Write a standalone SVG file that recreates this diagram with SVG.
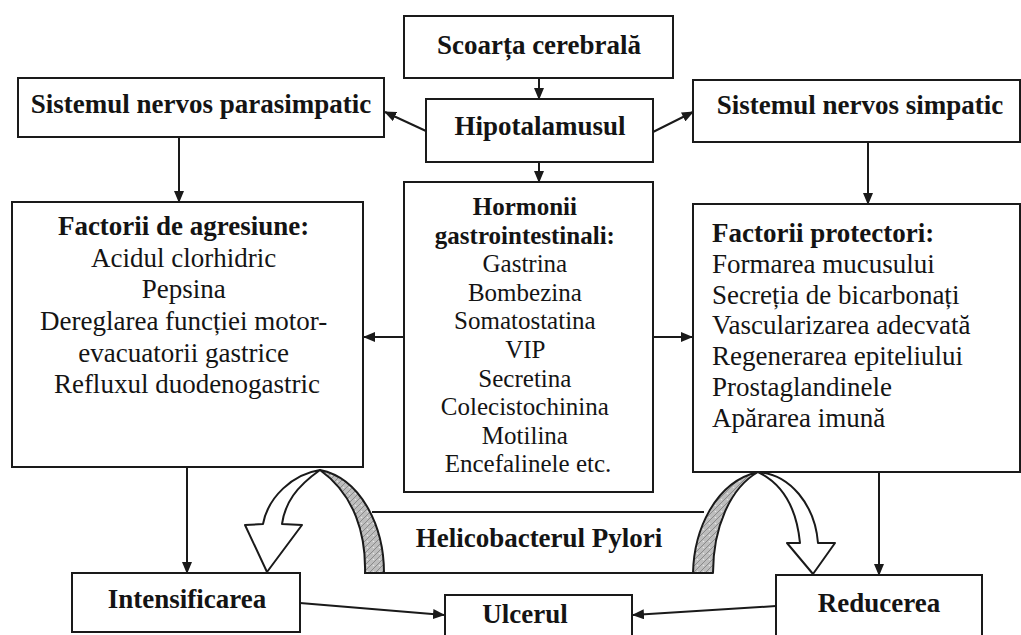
<svg xmlns="http://www.w3.org/2000/svg" width="1021" height="635" viewBox="0 0 1021 635">
  <style>
    .box { fill: #ffffff; stroke: #1a1a1a; stroke-width: 2; }
    .ln { fill: none; stroke: #1a1a1a; stroke-width: 2; }
    .arr { fill: none; stroke: #1a1a1a; stroke-width: 2; marker-end: url(#head); }
    .t { font-family: "Liberation Serif", "Times New Roman", serif; font-size: 27px; fill: #141414; }
    .s { font-size: 25px; }
    .b { font-weight: bold; }
    .c { text-anchor: middle; }
    .ribbon { fill: #ffffff; stroke: #1a1a1a; stroke-width: 2; stroke-linejoin: round; }
    .back { fill: url(#grain); stroke: #1a1a1a; stroke-width: 2; stroke-linejoin: round; }
  </style>
  <defs>
    <marker id="head" viewBox="0 0 12 10" refX="11" refY="5" markerWidth="6" markerHeight="5" orient="auto" markerUnits="strokeWidth">
      <path d="M0,0 L12,5 L0,10 Z" fill="#1a1a1a"/>
    </marker>
    <!-- mottled grey for the back face of the curved ribbons -->
    <pattern id="grain" width="6" height="6" patternUnits="userSpaceOnUse">
      <rect width="6" height="6" fill="#bdbdbd"/>
      <path d="M0,6 L6,0" stroke="#8a8a8a" stroke-width="1"/>
      <circle cx="1.5" cy="1.5" r="0.8" fill="#e6e6e6"/>
    </pattern>
  </defs>

  <rect width="1021" height="635" fill="#ffffff"/>

  <!-- connectors -->
  <g id="connectors">
    <line class="arr" x1="539" y1="78" x2="539" y2="99"/>
    <line class="arr" x1="539" y1="162" x2="539" y2="182"/>
    <line class="arr" x1="426" y1="131" x2="385" y2="112"/>
    <line class="arr" x1="653" y1="132" x2="693" y2="112"/>
    <line class="arr" x1="179" y1="137" x2="179" y2="202"/>
    <line class="arr" x1="868" y1="142" x2="868" y2="204"/>
    <line class="arr" x1="404" y1="337" x2="364" y2="337"/>
    <line class="arr" x1="653" y1="337" x2="692" y2="337"/>
    <line class="arr" x1="187" y1="467" x2="187" y2="573"/>
    <line class="arr" x1="879" y1="472" x2="879" y2="575"/>
    <line class="arr" x1="300" y1="603" x2="444" y2="615"/>
    <line class="arr" x1="776" y1="606" x2="633" y2="615"/>
  </g>

  <g id="scoarta">
    <rect class="box" x="404" y="16" width="269" height="62"/>
    <text class="t b c" x="539" y="54">Scoarța cerebrală</text>
  </g>

  <g id="hipotalamus">
    <rect class="box" x="426" y="99" width="227" height="63"/>
    <text class="t b c" x="540" y="135">Hipotalamusul</text>
  </g>

  <g id="parasimpatic">
    <rect class="box" x="18" y="78" width="366" height="59"/>
    <text class="t b c" x="201" y="113">Sistemul nervos parasimpatic</text>
  </g>

  <g id="simpatic">
    <rect class="box" x="693" y="80" width="327" height="62"/>
    <text class="t b c" x="860" y="114">Sistemul nervos simpatic</text>
  </g>

  <g id="agresiune">
    <rect class="box" x="12" y="202" width="351" height="265"/>
    <text class="t c" x="187">
      <tspan class="b" x="187" y="235">Factorii de agresiune:</tspan>
      <tspan x="187" y="267">Acidul clorhidric</tspan>
      <tspan x="187" y="298">Pepsina</tspan>
      <tspan x="187" y="330">Dereglarea funcției motor-</tspan>
      <tspan x="187" y="362">evacuatorii gastrice</tspan>
      <tspan x="187" y="393">Refluxul duodenogastric</tspan>
    </text>
  </g>

  <g id="hormonii">
    <rect class="box" x="404" y="182" width="249" height="310"/>
    <text class="t s c" x="528">
      <tspan class="b" x="528" y="215">Hormonii</tspan>
      <tspan class="b" x="528" y="244">gastrointestinali:</tspan>
      <tspan x="528" y="272">Gastrina</tspan>
      <tspan x="528" y="301">Bombezina</tspan>
      <tspan x="528" y="329">Somatostatina</tspan>
      <tspan x="528" y="358">VIP</tspan>
      <tspan x="528" y="387">Secretina</tspan>
      <tspan x="528" y="415">Colecistochinina</tspan>
      <tspan x="528" y="444">Motilina</tspan>
      <tspan x="528" y="472">Encefalinele etc.</tspan>
    </text>
  </g>

  <g id="protectori">
    <rect class="box" x="693" y="204" width="327" height="268"/>
    <text class="t" x="712">
      <tspan class="b" x="712" y="242">Factorii protectori:</tspan>
      <tspan x="712" y="273">Formarea mucusului</tspan>
      <tspan x="712" y="304">Secreția de bicarbonați</tspan>
      <tspan x="712" y="334">Vascularizarea adecvată</tspan>
      <tspan x="712" y="365">Regenerarea epiteliului</tspan>
      <tspan x="712" y="396">Prostaglandinele</tspan>
      <tspan x="712" y="427">Apărarea imună</tspan>
    </text>
  </g>

  <g id="helicobacter">
    <line class="ln" x1="372" y1="512" x2="704" y2="512"/>
    <line class="ln" x1="364" y1="573" x2="693" y2="573"/>
    <!-- left ribbon: grey back face rising, white arrow falling onto Intensificarea -->
    <path class="back" d="M365,573 C366,535 355,495 320,470 C360,478 384,525 384,573 Z"/>
    <path class="ribbon" d="M320,470 C293,474 268,497 263,524 L245,525 L267,572 L302,525 L282,524 C285,503 296,487 320,470 Z"/>
    <!-- right ribbon -->
    <path class="back" d="M693,573 C694,530 715,482 758,472 C730,488 713,528 713,573 Z"/>
    <path class="ribbon" d="M758,472 C790,474 815,505 818,543 L835,543 L813,574 L787,543 L800,543 C797,512 785,485 758,472 Z"/>
    <text class="t b c" x="539" y="547">Helicobacterul Pylori</text>
  </g>

  <g id="intensificarea">
    <rect class="box" x="72" y="573" width="228" height="59"/>
    <text class="t b c" x="187" y="608">Intensificarea</text>
  </g>

  <g id="ulcerul">
    <rect class="box" x="445" y="595" width="187" height="50"/>
    <text class="t b c" x="525" y="623">Ulcerul</text>
  </g>

  <g id="reducerea">
    <rect class="box" x="776" y="575" width="206" height="70"/>
    <text class="t b c" x="879" y="612">Reducerea</text>
  </g>
</svg>
